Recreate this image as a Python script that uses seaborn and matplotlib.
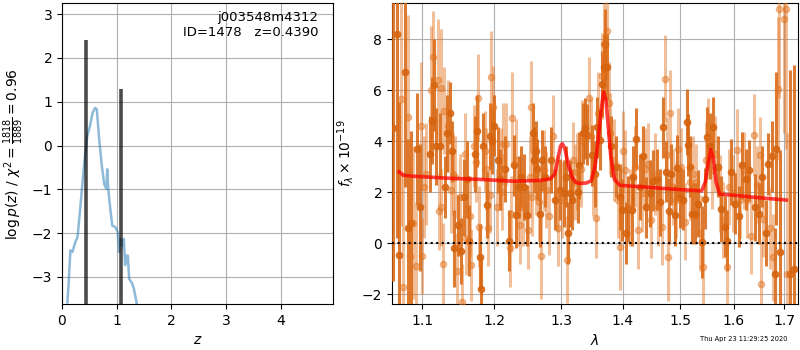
import numpy as np
import pandas as pd
import matplotlib
matplotlib.use('Agg')
import matplotlib.pyplot as plt
from matplotlib.ticker import FixedLocator, FixedFormatter, NullLocator
import seaborn as sns

# p(z) curve
pz_z = [0.099, 0.123, 0.154, 0.19, 0.216, 0.247, 0.284, 0.327, 0.37, 0.42, 0.463, 0.512, 0.56,
        0.605, 0.636, 0.68, 0.728, 0.772, 0.81, 0.827, 0.846, 0.883, 0.92, 0.975, 1.02, 1.043,
        1.068, 1.105, 1.13, 1.154, 1.18, 1.204, 1.228, 1.284, 1.315, 1.364, 1.40]
pz_logp = [-3.58, -3.11, -2.39, -2.43, -2.32, -2.19, -2.09, -1.52, -0.92, -0.23, 0.22, 0.45, 0.75,
           0.86, 0.83, 0.14, -0.46, -0.88, -0.99, -0.54, -0.99, -1.45, -1.83, -1.86, -1.98, -2.43,
           -2.13, -2.28, -2.13, -2.73, -2.51, -2.51, -3.04, -3.15, -3.27, -3.58, -4.0]
z_peaks = [0.439, 1.085]
z_peak_top = [2.4, 1.3]

# spectrum, first orient (dark)
wave_a = [1.062, 1.067, 1.070, 1.078, 1.081, 1.085, 1.094, 1.097, 1.111, 1.113, 1.116, 1.119, 1.124,
          1.131, 1.134, 1.138, 1.140, 1.143, 1.149, 1.153, 1.157, 1.161, 1.164, 1.172, 1.175, 1.179,
          1.181, 1.184, 1.189, 1.194,
          1.197, 1.200, 1.205, 1.208, 1.215, 1.221, 1.228, 1.232, 1.236, 1.239, 1.244, 1.248, 1.257,
          1.259, 1.261, 1.263, 1.267, 1.271, 1.275, 1.285, 1.290, 1.298, 1.304, 1.307, 1.311, 1.314,
          1.317, 1.326, 1.329, 1.335, 1.338, 1.341,
          1.349, 1.354, 1.357, 1.362, 1.366, 1.368, 1.371, 1.374, 1.381, 1.388, 1.395, 1.398, 1.406,
          1.409, 1.415, 1.417, 1.422, 1.429, 1.435, 1.440, 1.446, 1.452, 1.458, 1.464, 1.470, 1.474,
          1.480, 1.484, 1.490, 1.494, 1.499, 1.505, 1.512, 1.515, 1.518, 1.521,
          1.526, 1.532, 1.539, 1.545, 1.549, 1.554, 1.561, 1.570, 1.576, 1.582, 1.587, 1.595, 1.603,
          1.610, 1.616, 1.623, 1.630, 1.641, 1.648, 1.654, 1.663, 1.667, 1.674, 1.681, 1.683, 1.692,
          1.711, 1.719]
flux_a = [4.5, 8.2, -0.48, 6.7, 0.6, 0.8, 3.7, 1.4, 3.5, 4.8, 6.2, 3.8, 3.8, 2.2, 4.3, 5.1, 3.6, -0.2,
          0.7, -0.3, 1.8, 2.5, 0.1, 3.5, 4.4, -0.55, -1.8, 3.8, 1.5, 4.2,
          4.0, 4.6, 3.25, 2.5, 2.9, 0.1, 3.05, 1.1, 2.2, 2.6, 2.2, 1.1, 4.3, 3.25, 3.6, 2.9, 1.15,
          3.25, 2.6, 3.25, 1.7, 2.1, 1.95, 2.6, 0.4, 1.95, 1.7, 2.0, 3.05, 4.3, 4.5, 4.25,
          3.45, 2.7, 4.55, 4.05, 6.25, 6.9, 7.8, 6.9, 3.8, 3.0, 1.8, 1.3, 0.4, 1.35, 1.3, 2.6, 4.1,
          2.2, 3.4, 1.4, 1.95, 2.45, 2.5, 1.6, 4.55, 2.8, 1.25, 2.7, 1.1, 2.95, 1.8, 1.7, 4.75, 3.85,
          3.0, 1.15,
          1.15, 1.55, 0.05, 1.75, 4.15, 3.8, 4.55, 3.0, 1.35, 0.65, 0.1, 2.8, 1.55, 1.05, 3.05, 2.5,
          2.85, 1.4, 1.15, 2.6, 0.4, 3.1, 3.4, -1.2, 3.7, -0.35, -1.2, -1.0]
err_a = [6.0, 8.0, 6.0, 4.5, 3.5, 3.6, 2.2, 2.5, 1.5, 1.7, 1.8, 1.5, 1.3, 1.2, 1.5, 1.2, 1.2, 1.5,
         1.2, 1.3, 1.5, 1.5, 1.4, 1.5, 1.4, 1.3, 1.2, 1.3, 1.3, 1.3,
         1.3, 1.2, 1.3, 1.2, 1.3, 1.2, 1.2, 1.3, 1.2, 1.2, 1.3, 1.2, 1.2, 1.3, 1.2, 1.2, 1.3, 1.2,
         1.2, 1.3, 1.2, 1.2, 1.3, 1.2, 1.2, 1.3, 1.2, 1.2, 1.3, 1.2, 1.2, 1.2,
         1.2, 1.3, 1.2, 1.2, 1.3, 1.3, 1.4, 1.3, 1.2, 1.2, 1.3, 1.2, 1.2, 1.3, 1.4, 1.2, 1.2, 1.3,
         1.2, 1.2, 1.3, 1.2, 1.2, 1.3, 1.2, 1.2, 1.3, 1.2, 1.2, 1.3, 1.2, 1.2, 1.3, 1.2, 1.2, 1.2,
         1.2, 1.3, 1.4, 1.2, 1.2, 1.3, 1.2, 1.2, 1.3, 1.2, 1.2, 1.3, 1.2, 1.2, 1.3, 1.2, 1.2, 1.3,
         1.2, 1.2, 1.3, 1.2, 1.4, 1.8, 3.0, 4.0, 8.0, 8.0]

# spectrum, second orient (light)
wave_b = [1.073, 1.075, 1.082, 1.084, 1.088, 1.092, 1.099, 1.100, 1.103, 1.105, 1.112, 1.114, 1.121,
          1.122, 1.125, 1.126, 1.128, 1.130, 1.135, 1.139, 1.142, 1.145, 1.147, 1.151, 1.154, 1.158,
          1.159, 1.165, 1.167, 1.171, 1.174, 1.176, 1.178, 1.186, 1.188, 1.190, 1.193, 1.195,
          1.198, 1.203, 1.210, 1.211, 1.213, 1.217, 1.222, 1.224, 1.226, 1.231, 1.234, 1.238, 1.242,
          1.250, 1.252, 1.254, 1.256, 1.262, 1.266, 1.269, 1.273, 1.277, 1.281, 1.287, 1.293, 1.295,
          1.301, 1.309, 1.319, 1.322, 1.325, 1.331, 1.333, 1.344, 1.347,
          1.351, 1.356, 1.359, 1.365, 1.369, 1.374, 1.377, 1.379, 1.385, 1.392, 1.396, 1.400, 1.403,
          1.412, 1.420, 1.426, 1.432, 1.437, 1.443, 1.449, 1.455, 1.461, 1.467, 1.472, 1.477, 1.479,
          1.481, 1.487, 1.492, 1.496, 1.502, 1.508, 1.517, 1.523,
          1.529, 1.536, 1.542, 1.547, 1.551, 1.558, 1.564, 1.573, 1.579, 1.586, 1.591, 1.598, 1.606,
          1.612, 1.619, 1.626, 1.634, 1.639, 1.645, 1.650, 1.652, 1.657, 1.670, 1.677, 1.686, 1.689,
          1.699, 1.703, 1.706]
flux_b = [5.67, -1.7, 4.95, -0.5, 0.8, -0.9, 4.6, -0.5, 2.2, 2.7, 6.0, 7.3, 6.4, 1.25, 6.1, 1.4, -0.8,
          5.2, 4.6, 2.1, 2.7, 2.6, -1.1, 1.8, -2.3, 3.5, 0.15, 1.05, -0.85, 3.8, 3.2, 5.7, 0.65, 3.6,
          2.9, 0.6, 1.9, 6.5,
          5.35, 1.4, 2.9, 2.0, 3.9, 3.9, -0.2, 1.15, 4.9, 3.25, 1.4, 0.7, 1.4, 0.5, 2.6, 5.35, 1.8,
          2.7, 1.6, -0.5, 2.85, 2.1, 1.05, 4.2, 1.95, 0.6, 1.7, -0.65, 3.25, 2.4, 2.8, 2.9, 4.0, 5.7,
          4.2,
          2.65, 1.0, 5.1, 6.55, 7.8, 8.3, 5.5, 4.3, 3.25, 1.7, -0.15, 3.6, 2.85, 1.4, 3.0, 0.5, 1.95,
          2.9, 3.1, 0.9, 2.7, 1.4, 0.65, 6.45, 3.45, -0.55, 5.1, 2.2, 1.7, 3.7, 3.0, 0.85, 2.4, 2.7,
          2.4, 0.4, -0.95, 3.25, 4.1, 2.85, 3.5, 1.95, 0.9, -0.95, 2.2, 1.95, 3.65, 1.7, 2.85, 1.7,
          0.3, 4.25, 2.3, 3.45, -1.6, 0.95, 0.6, -0.55, 6.05, 9.2, 8.8, 9.2, -1.2]
err_b = [5.0, 4.5, 4.0, 3.5, 3.0, 2.5, 2.5, 1.5, 2.0, 2.0, 2.5, 1.8, 2.4, 1.5, 2.3, 1.5, 1.6, 1.7,
         1.8, 1.7, 1.6, 1.6, 1.5, 1.7, 1.5, 1.6, 1.4, 1.6, 1.4, 1.6, 1.6, 1.7, 1.6, 1.6, 1.6, 1.5,
         1.5, 1.8,
         1.6, 1.5, 1.6, 1.5, 1.6, 1.6, 1.5, 1.5, 1.8, 1.6, 1.5, 1.5, 1.5, 1.5, 1.6, 1.8, 1.5, 1.6,
         1.5, 1.7, 1.6, 1.5, 1.5, 1.6, 1.5, 1.5, 1.5, 1.7, 1.5, 1.5, 1.5, 1.5, 1.6, 1.6, 1.5,
         1.6, 1.6, 1.6, 1.7, 1.7, 1.8, 1.6, 1.6, 1.6, 1.5, 1.7, 1.6, 1.6, 1.5, 1.6, 1.5, 1.5, 1.6,
         1.6, 1.5, 1.6, 1.5, 1.5, 1.7, 1.5, 1.7, 1.7, 1.5, 1.5, 1.6, 1.5, 1.5, 1.5, 1.5,
         1.5, 1.5, 1.5, 1.5, 1.6, 1.5, 1.5, 1.5, 1.5, 1.6, 1.5, 1.5, 1.6, 1.5, 1.5, 1.5, 1.5, 1.6,
         1.5, 1.5, 1.6, 1.5, 1.6, 1.7, 2.8, 3.5, 4.5, 5.5, 5.5]

# best-fit model
model_wave = [1.070, 1.075, 1.086, 1.133, 1.179, 1.228, 1.267, 1.283, 1.290, 1.295, 1.299, 1.302,
              1.306, 1.311, 1.317, 1.322, 1.330, 1.340, 1.348, 1.354, 1.359, 1.364, 1.368, 1.372,
              1.376, 1.380, 1.386, 1.395, 1.45, 1.50, 1.539, 1.546, 1.551, 1.556, 1.561, 1.566,
              1.573, 1.60, 1.645, 1.704]
model_flux = [2.8, 2.67, 2.63, 2.55, 2.5, 2.43, 2.46, 2.52, 2.7, 3.3, 3.8, 3.9, 3.7, 3.1, 2.6, 2.4,
              2.34, 2.36, 2.45, 3.0, 4.0, 5.2, 5.93, 5.6, 4.5, 3.4, 2.5, 2.27, 2.18, 2.1, 2.05, 2.4,
              3.1, 3.67, 3.3, 2.4, 1.92, 1.88, 1.79, 1.69]

info_text = 'j003548m4312\nID=1478   z=0.4390'
stamp = 'Thu Apr 23 11:29:25 2020'

fig = plt.figure(figsize=(8, 3.5), dpi=100)
ax1 = fig.add_axes([0.0775, 0.131, 0.339, 0.860])
ax2 = fig.add_axes([0.49, 0.131, 0.5075, 0.860])

# left: p(z)
pz = pd.DataFrame({'z': pz_z, 'logp': pz_logp})
sns.lineplot(data=pz, x='z', y='logp', ax=ax1, color='tab:blue', alpha=0.5, lw=1.8,
             sort=False, estimator=None)
ax1.vlines(z_peaks, -10, z_peak_top, color='k', alpha=0.7, lw=2.6)
ax1.set_xlim(0, 4.96)
ax1.set_ylim(-3.62, 3.25)
ax1.set_xticks([0, 1, 2, 3, 4])
ax1.set_yticks([-3, -2, -1, 0, 1, 2, 3])
ax1.grid(True)
ax1.set_xlabel(r'$z$')
ax1.set_ylabel(r'$\log p(z)$ / $\chi^2=\frac{1818}{1889}=0.96$')
ax1.text(0.945, 0.975, info_text, transform=ax1.transAxes, ha='right', va='top', fontsize=9.5)

# right: spectrum
ax2.errorbar(wave_a, flux_a, yerr=err_a, fmt='o', ms=4.5, color='#d6640f', alpha=0.85,
             elinewidth=2.2, capsize=0, zorder=3)
ax2.errorbar(wave_b, flux_b, yerr=err_b, fmt='o', ms=4.5, color='#e2731f', alpha=0.45,
             elinewidth=2.2, capsize=0, zorder=3)
model = pd.DataFrame({'wave': model_wave, 'flux': model_flux})
sns.lineplot(data=model, x='wave', y='flux', ax=ax2, color='r', alpha=0.75, lw=2.6,
             sort=False, estimator=None, zorder=4)
ax2.axhline(0, color='k', ls=':', lw=1.5, zorder=5)
ax2.set_xscale('log')
ax2.set_xlim(1.061, 1.728)
ax2.set_ylim(-2.39, 9.41)
xt = [1.1, 1.2, 1.3, 1.4, 1.5, 1.6, 1.7]
ax2.xaxis.set_major_locator(FixedLocator(xt))
ax2.xaxis.set_major_formatter(FixedFormatter(['%.1f' % v for v in xt]))
ax2.xaxis.set_minor_locator(NullLocator())
ax2.set_yticks([-2, 0, 2, 4, 6, 8])
ax2.grid(True)
ax2.set_xlabel(r'$\lambda$')
ax2.set_ylabel(r'$f_\lambda \times 10^{-19}$')

fig.text(0.984, 0.031, stamp, ha='right', va='center', fontsize=4.8)

fig.savefig('out.png', dpi=100)
